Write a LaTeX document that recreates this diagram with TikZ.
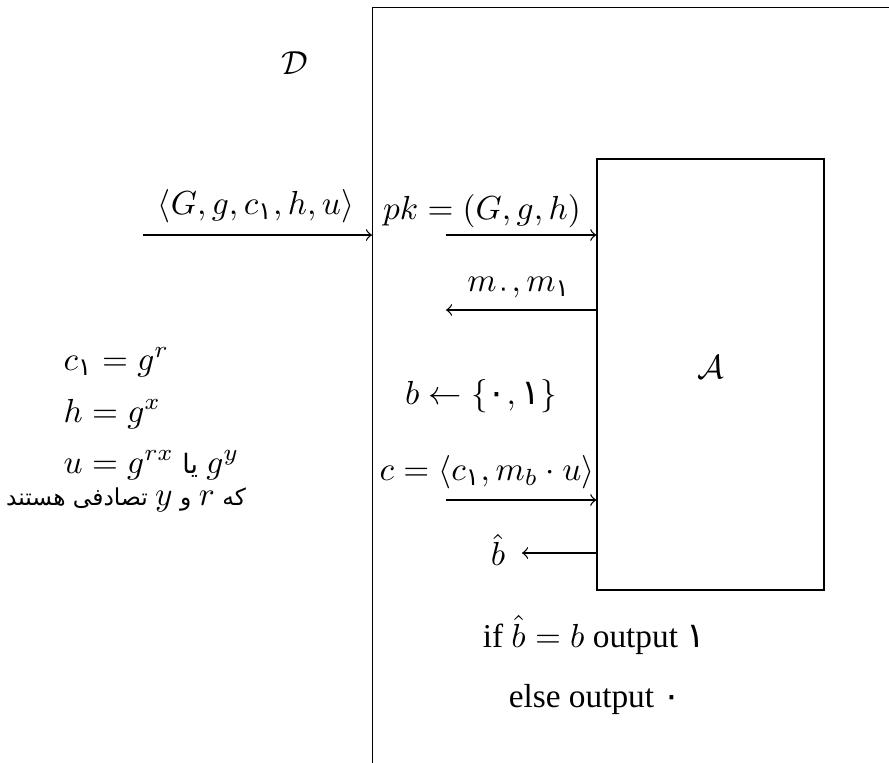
\documentclass[tikz,border=0pt]{standalone}
\usepackage{amsmath}
\usepackage{fontspec}
\setmainfont{Liberation Serif}
\newfontfamily\fafont[Script=Arabic,Scale=0.8]{DejaVu Sans}
\newfontfamily\fatext[Script=Arabic,Scale=0.7]{DejaVu Sans}
\newfontfamily\fadigit[Script=Arabic,Scale=1.05]{DejaVu Sans}
\TeXXeTstate=1
\newcommand{\pone}{\text{\fadigit ۱}}
\newcommand{\pzero}{\text{\fadigit ۰}}
\begin{document}
\begin{tikzpicture}[x=0.3pt,y=-0.3pt,
  lbl/.style={inner sep=0pt},
  msg/.style={->}]
\clip (0,0) rectangle (889,763);
% boxes
\node[draw, minimum width=200pt, minimum height=260pt, anchor=north west, inner sep=0pt] (Dbox) at (372,7) {};
\node[draw, minimum width=68.1pt, minimum height=129.3pt, inner sep=0pt] (A) at (710.5,374.5) {};
\node[lbl] (Alab) at (711,367) {$\mathcal{A}$};
\node[lbl] (D) at (295,63) {$\mathcal{D}$};
% outer input
\coordinate (in) at (143,235);
\draw[msg] (in) -- (Dbox.west |- in);
\node[lbl] (inlab) at (256,206) {$\langle G,g,c_{\pone},h,u\rangle$};
% pk
\coordinate (pk) at (446,235);
\draw[msg] (pk) -- (A.west |- pk);
\node[lbl] (pklab) at (482,211) {$pk=(G,g,h)$};
% m0 m1
\coordinate (mm) at (446,310);
\draw[msg] (A.west |- mm) -- (mm);
\node[lbl] (mmlab) at (519,288) {$m_{\pzero},m_{\pone}$};
% b
\node[lbl] (b) at (481,396) {$b\leftarrow\{\pzero,\pone\}$};
% c
\coordinate (cc) at (446,500);
\draw[msg] (cc) -- (A.west |- cc);
\node[lbl] (clab) at (487,472) {$c=\langle c_{\pone},m_b\cdot u\rangle$};
% bhat
\node[lbl] (bhat) at (498,550) {$\hat b$};
\coordinate (bh) at (522,553);
\draw[msg] (A.west |- bh) -- (bh);
% output
\node[lbl, anchor=base] (out1) at (594,647) {if $\hat b=b$ output \pone};
\node[lbl, anchor=base] (out2) at (595,707) {else output \pzero};
% left equations
\node[lbl, anchor=base west] (e1) at (63,370) {$c_{\pone}=g^r$};
\node[lbl, anchor=base west] (e2) at (63,422) {$h=g^x$};
\node[lbl, anchor=base west] (e3) at (63,473) {$u=g^{rx}$ \hbox{\fafont\beginR یا\endR} $g^y$};
\node[lbl, anchor=base] (e4) at (126,505) {\hbox{\TeXXeTstate=1\fatext\beginR که \(r\) و \(y\) تصادفی هستند\endR}};
\end{tikzpicture}
\end{document}
